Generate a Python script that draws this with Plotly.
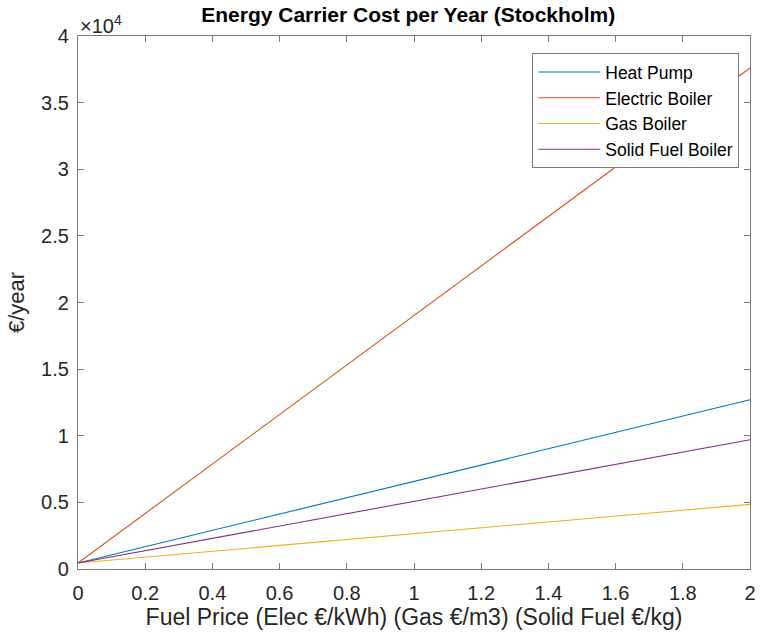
import plotly.graph_objects as go

# Fuel price axis (Elec €/kWh, Gas €/m3, Solid Fuel €/kg)
fuel_price = [0, 2]

# Yearly energy carrier cost (€/year) at each fuel price
heat_pump = [450, 12700]
electric_boiler = [450, 37600]
gas_boiler = [450, 4850]
solid_fuel_boiler = [450, 9700]

series_names = ["Heat Pump", "Electric Boiler", "Gas Boiler", "Solid Fuel Boiler"]
series_values = [heat_pump, electric_boiler, gas_boiler, solid_fuel_boiler]
series_colors = ["#0072BD", "#D95319", "#EDB120", "#7E2F8E"]

x_ticks = [0, 0.2, 0.4, 0.6, 0.8, 1, 1.2, 1.4, 1.6, 1.8, 2]
x_tick_text = ["0", "0.2", "0.4", "0.6", "0.8", "1", "1.2", "1.4", "1.6", "1.8", "2"]
y_ticks = [0, 5000, 10000, 15000, 20000, 25000, 30000, 35000, 40000]
y_tick_text = ["0", "0.5", "1", "1.5", "2", "2.5", "3", "3.5", "4"]

FONT = "Liberation Sans, Arial, sans-serif"
AXIS_GREY = "#7a7a7a"
TEXT = "#262626"

fig = go.Figure()
for name, vals, col in zip(series_names, series_values, series_colors):
    fig.add_trace(go.Scatter(
        x=fuel_price, y=vals, mode="lines", name=name,
        line=dict(color=col, width=1.1),
    ))

axis_common = dict(
    showline=True, linecolor=AXIS_GREY, linewidth=1.2, mirror="ticks",
    ticks="inside", ticklen=6, tickcolor=AXIS_GREY, tickwidth=1,
    showgrid=False, zeroline=False,
    tickfont=dict(family=FONT, size=20, color=TEXT),
)

fig.update_layout(
    width=763, height=637,
    margin=dict(l=78, r=7, t=36, b=68),
    paper_bgcolor="white", plot_bgcolor="white",
    title=dict(
        text="<b>Energy Carrier Cost per Year (Stockholm)</b>",
        font=dict(family=FONT, size=21, color="black"),
        x=0.535, xanchor="center", y=0.977, yanchor="middle",
    ),
    xaxis=dict(
        range=[0, 2], tickvals=x_ticks, ticktext=x_tick_text,
        ticklabelstandoff=6,
        title=dict(text="Fuel Price (Elec €/kWh) (Gas €/m3) (Solid Fuel €/kg)",
                   font=dict(family=FONT, size=23, color=TEXT), standoff=3),
        **axis_common,
    ),
    yaxis=dict(
        range=[0, 40000], tickvals=y_ticks, ticktext=y_tick_text,
        ticklabelstandoff=4,
        title=dict(text="€/year", font=dict(family=FONT, size=22, color=TEXT), standoff=10),
        **axis_common,
    ),
    legend=dict(
        x=0.984, y=0.968, xanchor="right", yanchor="top",
        bgcolor="white", bordercolor=AXIS_GREY, borderwidth=1,
        font=dict(family=FONT, size=17.5, color="black"),
        itemwidth=62, tracegroupgap=0,
    ),
    showlegend=True,
)

# Exponent marker for the y tick labels
fig.add_annotation(
    text="×10<sup>4</sup>", xref="paper", yref="paper", x=0.0, y=1.0,
    xanchor="left", yanchor="bottom", showarrow=False, yshift=-3,
    font=dict(family=FONT, size=20, color=TEXT),
)

fig.write_html("out.html")
